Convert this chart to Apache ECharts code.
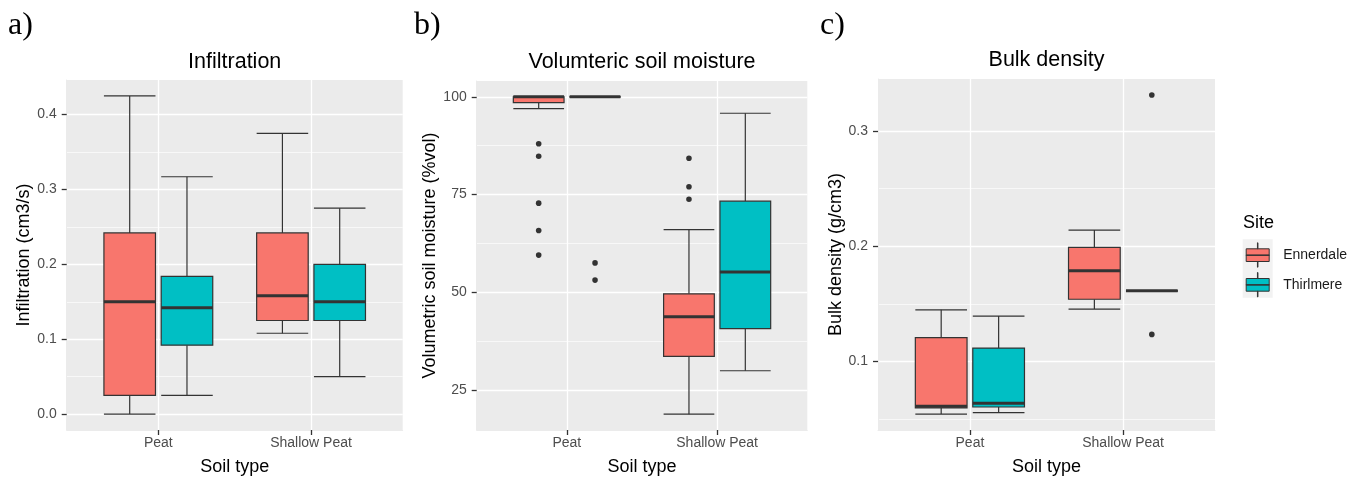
<!DOCTYPE html>
<html>
<head>
    <meta charset="UTF-8">
    <title>Soil properties by site</title>
    <script src="https://cdn.jsdelivr.net/npm/echarts@6/dist/echarts.min.js"></script>
    <style>
        * { padding: 0; margin: 0; }
        body { background: #fff; }
        #chart { width: 1360px; height: 481px; }
    </style>
</head>
<body>
    <div id="chart"></div>
<script>
    var soilTypes = ['Peat', 'Shallow Peat'];
    var sites = ['Ennerdale', 'Thirlmere'];
    var siteColors = ['#F8766D', '#00BFC4'];

    // box stats for each soil type: [min, Q1, median, Q3, max]
    var infilEnnerdale = [[0.000, 0.025, 0.150, 0.242, 0.425], [0.108, 0.125, 0.158, 0.242, 0.375]];
    var infilThirlmere = [[0.025, 0.092, 0.142, 0.184, 0.317], [0.050, 0.125, 0.150, 0.200, 0.275]];
    var infilEnnerdaleOut = [[], []];
    var infilThirlmereOut = [[], []];
    var infilTicks = [0, 0.1, 0.2, 0.3, 0.4];
    var infilMinor = [0.05, 0.15, 0.25, 0.35];

    var moistEnnerdale = [[97.0, 98.5, 100, 100, 100], [18.8, 33.6, 43.7, 49.6, 66.0]];
    var moistThirlmere = [[100, 100, 100, 100, 100], [29.9, 40.7, 55.2, 73.3, 95.8]];
    var moistEnnerdaleOut = [[88.0, 84.8, 72.8, 65.8, 59.5], [84.3, 77.0, 73.8]];
    var moistThirlmereOut = [[57.5, 53.1], []];
    var moistTicks = [25, 50, 75, 100];
    var moistMinor = [37.5, 62.5, 87.5];

    var bulkEnnerdale = [[0.0544, 0.0598, 0.0611, 0.1207, 0.1448], [0.1455, 0.1540, 0.1786, 0.1990, 0.2140]];
    var bulkThirlmere = [[0.0556, 0.0605, 0.0638, 0.1116, 0.1394], [0.1613, 0.1613, 0.1613, 0.1613, 0.1613]];
    var bulkEnnerdaleOut = [[], []];
    var bulkThirlmereOut = [[], [0.3312, 0.1235]];
    var bulkTicks = [0.1, 0.2, 0.3];
    var bulkMinor = [0.05, 0.15, 0.25];

    var FONT = 'Liberation Sans, Arial, sans-serif';
    var dodge = 0.1875;     // ggplot dodge offset (x units)
    var boxHalf = 0.16875;  // half box width (x units)

    var panels = [
        { tag: 'a)', title: 'Infiltration', yName: 'Infiltration (cm3/s)',
          grid: { left: 66.7, top: 80, width: 336, height: 350 }, nameGap: 31, titleTop: 51,
          stats: [infilEnnerdale, infilThirlmere], outs: [infilEnnerdaleOut, infilThirlmereOut],
          ticks: infilTicks, minor: infilMinor, fmt: function (v) { return v.toFixed(1); } },
        { tag: 'b)', title: 'Volumteric soil moisture', yName: 'Volumetric soil moisture (%vol)',
          grid: { left: 476.7, top: 81, width: 330.6, height: 349 }, nameGap: 37, titleTop: 51,
          stats: [moistEnnerdale, moistThirlmere], outs: [moistEnnerdaleOut, moistThirlmereOut],
          ticks: moistTicks, minor: moistMinor, fmt: function (v) { return String(v); } },
        { tag: 'c)', title: 'Bulk density', yName: 'Bulk density (g/cm3)',
          grid: { left: 878, top: 79, width: 337, height: 351 }, nameGap: 33, titleTop: 49,
          stats: [bulkEnnerdale, bulkThirlmere], outs: [bulkEnnerdaleOut, bulkThirlmereOut],
          ticks: bulkTicks, minor: bulkMinor, fmt: function (v) { return v.toFixed(1); } }
    ];
    var tagLeft = [8, 414, 820];

    function rangeOf(p) {   // ggplot style 5% expansion
        var all = [];
        p.stats.forEach(function (s) { s.forEach(function (r) { all = all.concat(r); }); });
        p.outs.forEach(function (s) { s.forEach(function (r) { all = all.concat(r); }); });
        var lo = Math.min.apply(null, all), hi = Math.max.apply(null, all);
        var pad = (hi - lo) * 0.05;
        return [lo - pad, hi + pad];
    }

    function boxRenderer(side, outliers, color) {
        return function (params, api) {
            var c = api.value(0) + side * dodge;
            var x0 = api.coord([c - boxHalf, 0])[0];
            var x1 = api.coord([c + boxHalf, 0])[0];
            var xc = api.coord([c, 0])[0];
            var y = function (i) { return api.coord([c, api.value(i)])[1]; };
            var yMin = y(1), yQ1 = y(2), yMed = y(3), yQ3 = y(4), yMax = y(5);
            var ln = { stroke: '#333333', lineWidth: 1.2 };
            var children = [
                { type: 'line', shape: { x1: xc, y1: yQ1, x2: xc, y2: yMin }, style: ln },
                { type: 'line', shape: { x1: x0, y1: yMin, x2: x1, y2: yMin }, style: ln },
                { type: 'line', shape: { x1: xc, y1: yQ3, x2: xc, y2: yMax }, style: ln },
                { type: 'line', shape: { x1: x0, y1: yMax, x2: x1, y2: yMax }, style: ln },
                { type: 'rect', shape: { x: x0, y: yQ3, width: x1 - x0, height: yQ1 - yQ3 },
                  style: { fill: color, stroke: '#333333', lineWidth: 1.2 } },
                { type: 'line', shape: { x1: x0, y1: yMed, x2: x1, y2: yMed }, style: { stroke: '#333333', lineWidth: 3 } }
            ];
            (outliers[params.dataIndex] || []).forEach(function (v) {
                var p = api.coord([c, v]);
                children.push({ type: 'circle', shape: { cx: p[0], cy: p[1], r: 2.8 }, style: { fill: '#333333' } });
            });
            return { type: 'group', children: children };
        };
    }

    // axis line in the panel colour, so only the ticks stand out
    var edgeLine = { show: true, onZero: false, lineStyle: { color: '#EBEBEB', width: 1 } };
    var tickStyle = { color: '#333333', width: 1.3 };

    var grids = [], xAxes = [], yAxes = [], series = [], titles = [];

    panels.forEach(function (p, k) {
        var ext = rangeOf(p);
        var g = p.grid;
        grids.push({ left: g.left, top: g.top, width: g.width, height: g.height,
            show: true, backgroundColor: '#EBEBEB', borderWidth: 0 });

        xAxes.push({
            type: 'value', gridIndex: k, min: 0.4, max: 2.6, position: 'bottom',
            name: 'Soil type', nameLocation: 'middle', nameGap: 28,
            nameTextStyle: { color: '#000', fontSize: 18, fontFamily: FONT },
            axisLine: edgeLine,
            axisTick: { show: true, length: 5, customValues: [1, 2], lineStyle: tickStyle },
            axisLabel: { customValues: [1, 2], margin: 6, color: '#4D4D4D', fontSize: 14, fontFamily: FONT,
                formatter: function (v) { return soilTypes[Math.round(v) - 1]; } },
            splitLine: { show: true, lineStyle: { color: '#FFFFFF', width: 1.3 } }
        });

        yAxes.push({
            type: 'value', gridIndex: k, min: ext[0], max: ext[1], position: 'left',
            name: p.yName, nameLocation: 'middle', nameGap: p.nameGap,
            nameTextStyle: { color: '#000', fontSize: 18, fontFamily: FONT },
            axisLine: edgeLine,
            axisTick: { show: true, length: 5, customValues: p.ticks, lineStyle: tickStyle },
            axisLabel: { customValues: p.ticks, margin: 10, color: '#4D4D4D', fontSize: 14, fontFamily: FONT, formatter: p.fmt },
            splitLine: { show: true, lineStyle: { color: '#FFFFFF', width: 1.3 } }
        });
        // minor grid lines
        yAxes.push({
            type: 'value', gridIndex: k, min: ext[0], max: ext[1], position: 'right',
            axisLine: { show: false, onZero: false },
            axisTick: { show: false, customValues: p.minor },
            axisLabel: { show: false },
            splitLine: { show: true, lineStyle: { color: '#FFFFFF', width: 0.65 } }
        });

        sites.forEach(function (site, s) {
            series.push({
                type: 'custom', name: site,
                xAxisIndex: k, yAxisIndex: k * 2,
                itemStyle: { color: siteColors[s], borderColor: '#333333' },
                renderItem: boxRenderer(s === 0 ? -1 : 1, p.outs[s], siteColors[s]),
                data: p.stats[s].map(function (r, i) { return [i + 1].concat(r); }),
                z: 3
            });
        });

        titles.push({ text: p.title, left: g.left + g.width / 2, top: p.titleTop, textAlign: 'center', padding: 0,
            textStyle: { color: '#000', fontSize: 21.5, fontWeight: 'normal', fontFamily: FONT } });
        titles.push({ text: p.tag, left: tagLeft[k], top: 10, padding: 0,
            textStyle: { color: '#000', fontSize: 32, fontWeight: 'normal', fontFamily: 'Liberation Serif, Times New Roman, serif' } });
    });

    titles.push({ text: 'Site', left: 1243, top: 214, padding: 0,
        textStyle: { color: '#000', fontSize: 18, fontWeight: 'normal', fontFamily: FONT } });

    // boxplot legend key: whisker, box, median, whisker
    var keyIcon = 'path://M0 6L23 6L23 18.7L0 18.7Z M0 12.15L23 12.15L23 12.65L0 12.65Z ' +
        'M11.25 0L11.75 0L11.75 6L11.25 6Z M11.25 18.7L11.75 18.7L11.75 24.4L11.25 24.4Z';

    var myChart = echarts.init(document.getElementById('chart'));
    myChart.setOption({
        animation: false,
        backgroundColor: '#FFFFFF',
        title: titles,
        grid: grids,
        xAxis: xAxes,
        yAxis: yAxes,
        legend: {
            orient: 'vertical', left: 1245.7, top: 242.3, padding: 0,
            itemWidth: 23, itemHeight: 24.4, itemGap: 4.3, selectedMode: false,
            textStyle: { color: '#1A1A1A', fontSize: 14, fontFamily: FONT, padding: [0, 0, 0, 9] },
            data: sites.map(function (s, i) {
                return { name: s, icon: keyIcon,
                    itemStyle: { color: siteColors[i], borderColor: '#333333', borderWidth: 1 } };
            })
        },
        graphic: [{
            type: 'rect', z: -1,
            shape: { x: 1242.7, y: 239.3, width: 30, height: 58.4 },
            style: { fill: '#F2F2F2' }
        }],
        series: series
    });
</script>
</body>
</html>
